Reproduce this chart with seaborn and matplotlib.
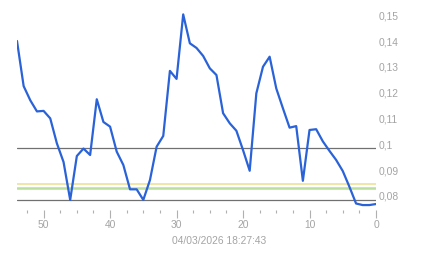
import matplotlib
matplotlib.use("Agg")
import matplotlib.pyplot as plt
from matplotlib.ticker import MultipleLocator, FixedLocator
import seaborn as sns
import pandas as pd
import numpy as np

# Data (x counts down from 54 to 0)
x_vals = list(range(54, -1, -1))
y_vals = [0.1416, 0.1241, 0.1186, 0.1143, 0.1145, 0.1116, 0.1019, 0.0947, 0.0800, 0.0970,
          0.0999, 0.0974, 0.1190, 0.1102, 0.1084, 0.0987, 0.0935, 0.0841, 0.0841, 0.0800,
          0.0877, 0.1006, 0.1048, 0.1300, 0.1269, 0.1519, 0.1407, 0.1389, 0.1358, 0.1310,
          0.1284, 0.1136, 0.1097, 0.1068, 0.0993, 0.0913, 0.1213, 0.1316, 0.1355, 0.1232,
          0.1155, 0.1080, 0.1086, 0.0874, 0.1071, 0.1074, 0.1027, 0.0990, 0.0955, 0.0912,
          0.0851, 0.0786, 0.0780, 0.0780, 0.0784]
gray_refs = [0.1, 0.08]
yellow_ref = 0.0860
green_ref = 0.0847
y_ticks = [0.08, 0.09, 0.1, 0.11, 0.12, 0.13, 0.14, 0.15]
y_labels = ["0,08", "0,09", "0,1", "0,11", "0,12", "0,13", "0,14", "0,15"]
x_ticks = [50, 40, 30, 20, 10, 0]
timestamp = "04/03/2026 18:27:43"

sns.set_style("white")
plt.rcParams['font.family'] = ['Liberation Sans', 'DejaVu Sans']

fig = plt.figure(figsize=(4.43, 2.58), dpi=100)
ax = fig.add_axes([17/443, 1 - 210/258, (376 - 17)/443, 210/258])

df = pd.DataFrame({"x": x_vals, "y": y_vals})

for r in gray_refs:
    ax.axhline(r, color="#707070", lw=0.9, zorder=1)
ax.axhline(yellow_ref, color="#eee29a", lw=1.2, zorder=1)
ax.axhline(green_ref, color="#b9df9f", lw=1.8, zorder=1)

sns.lineplot(data=df, x="x", y="y", ax=ax, color="#2a62d8", lw=1.6, zorder=3)

ax.set_xlim(54, 0)
ax.set_ylim(0.1 - 61.7 / 2580, 0.1 + 148.3 / 2580)

for s in ax.spines.values():
    s.set_visible(False)

ax.set_xlabel("")
ax.set_ylabel("")
ax.xaxis.set_major_locator(FixedLocator(x_ticks))
ax.xaxis.set_minor_locator(MultipleLocator(2.5))
ax.tick_params(axis="x", which="major", bottom=True, length=6, width=0.8, color="#b0b0b0",
               labelsize=7.4, labelcolor="#a4a4a4", pad=1)
ax.tick_params(axis="x", which="minor", bottom=True, length=2, width=0.8, color="#b0b0b0")

ax.yaxis.tick_right()
ax.set_yticks(y_ticks)
ax.set_yticklabels(y_labels)
ax.tick_params(axis="y", which="both", right=False, left=False, length=0,
               labelsize=7.4, labelcolor="#a4a4a4", pad=2)
for lab in ax.get_yticklabels():
    lab.set_verticalalignment("baseline")
ax.grid(False)

fig.text(219.5/443, 1 - 241/258, timestamp, ha="center", va="center",
         fontsize=7.4, color="#a4a4a4")

fig.savefig("out.png", dpi=100)
